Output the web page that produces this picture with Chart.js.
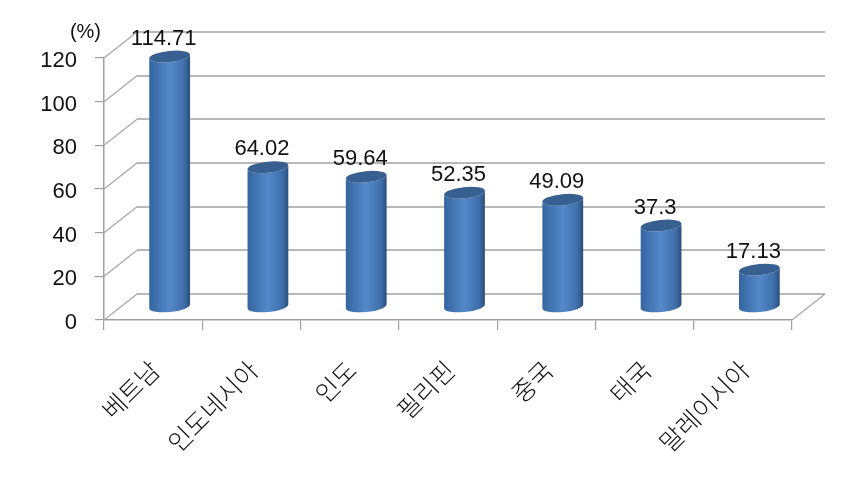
<!DOCTYPE html>
<html lang="ko">
<head>
<meta charset="utf-8">
<style>
    body { margin: 0; background: #fff; }
</style>
<script src="https://cdn.jsdelivr.net/npm/chart.js@4"></script>
</head>
<body>
<canvas id="chart" width="866" height="477"></canvas>
<script>
// datos
const categories = ['베트남', '인도네시아', '인도', '필리핀', '중국', '태국', '말레이시아'];
const values = [114.71, 64.02, 59.64, 52.35, 49.09, 37.3, 17.13];
const unitLabel = '(%)';

// profundidad del "3D" falso
const depthX = 33;
const depthY = 26;
const numFont = '22px "Liberation Sans", Arial, sans-serif';

// paredes de atras y suelo
const wallPlugin = {
    id: 'wall',
    beforeDatasetsDraw(chart) {
        const { ctx, scales: { x, y } } = chart;
        ctx.save();
        ctx.strokeStyle = '#b8b8b8';
        ctx.lineWidth = 2;
        y.ticks.forEach((t, i) => {
            const py = Math.round(y.getPixelForTick(i));
            ctx.beginPath();
            ctx.moveTo(x.left + depthX, py - depthY);
            ctx.lineTo(x.right + depthX, py - depthY);
            ctx.stroke();
        });
        ctx.strokeStyle = '#a6a6a6';
        ctx.lineWidth = 1.2;
        y.ticks.forEach((t, i) => {
            const py = y.getPixelForTick(i);
            ctx.beginPath();
            ctx.moveTo(x.left, py);
            ctx.lineTo(x.left + depthX, py - depthY);
            ctx.stroke();
        });
        ctx.beginPath();
        ctx.moveTo(x.right, y.bottom);
        ctx.lineTo(x.right + depthX, y.bottom - depthY);
        ctx.stroke();
        ctx.restore();
    }
};

// cilindros y etiquetas, a partir de las barras de Chart.js
const cylinderPlugin = {
    id: 'cylinder',
    afterDatasetsDraw(chart) {
        const { ctx, scales: { x, y } } = chart;
        const meta = chart.getDatasetMeta(0);
        const tilt = -0.1;
        ctx.save();
        meta.data.forEach((bar, i) => {
            const cx = bar.x + depthX / 2;
            const top = bar.y - depthY / 2;
            const bottom = bar.base - depthY / 2;
            const rx = bar.width / 2;
            const ry = 5.6;

            const grad = ctx.createLinearGradient(cx - rx, 0, cx + rx, 0);
            grad.addColorStop(0, '#34659f');
            grad.addColorStop(0.5, '#5488c8');
            grad.addColorStop(0.85, '#3f6fab');
            grad.addColorStop(1, '#2b4e7b');

            ctx.beginPath();
            ctx.ellipse(cx, bottom, rx, ry, tilt, 0, Math.PI);
            ctx.ellipse(cx, top, rx, ry, tilt, Math.PI, 0, true);
            ctx.closePath();
            ctx.fillStyle = grad;
            ctx.fill();

            ctx.beginPath();
            ctx.ellipse(cx, top, rx, ry, tilt, 0, Math.PI * 2);
            ctx.fillStyle = '#375f90';
            ctx.fill();

            ctx.fillStyle = '#111';
            ctx.font = numFont;
            ctx.textAlign = 'center';
            ctx.textBaseline = 'middle';
            ctx.fillText(String(values[i]), cx - 6, top - 18);
        });
        ctx.fillStyle = '#111';
        ctx.font = '20px "Liberation Sans", Arial, sans-serif';
        ctx.textAlign = 'right';
        ctx.textBaseline = 'middle';
        ctx.fillText(unitLabel, x.left - 3, y.top - 26);
        ctx.restore();
    }
};

new Chart(document.getElementById('chart'), {
    type: 'bar',
    data: {
        labels: categories,
        datasets: [{
            data: values,
            backgroundColor: 'transparent',
            barPercentage: 0.417,
            categoryPercentage: 1
        }]
    },
    options: {
        responsive: false,
        animation: false,
        layout: { padding: { top: 58, right: 74, left: 0, bottom: 0 } },
        plugins: { legend: { display: false }, tooltip: { enabled: false } },
        scales: {
            x: {
                afterFit(s) { s.height = 157; },
                grid: { drawOnChartArea: false, tickLength: 10, color: '#a0a0a0', lineWidth: 1.2 },
                border: { color: '#a0a0a0', width: 1.5 },
                ticks: {
                    color: '#111',
                    autoSkip: false,
                    maxRotation: 45,
                    minRotation: 45,
                    padding: 25,
                    labelOffset: 2,
                    font: { family: '"Noto Sans CJK KR"', size: 25, weight: 300 }
                }
            },
            y: {
                min: 0,
                max: 120,
                afterFit(s) { s.width = 104; },
                grid: { drawOnChartArea: false, tickLength: 9, color: '#a0a0a0', lineWidth: 1.2 },
                border: { color: '#a0a0a0', width: 1.5 },
                ticks: {
                    stepSize: 20,
                    color: '#111',
                    padding: 18,
                    labelOffset: 3,
                    font: { family: '"Liberation Sans"', size: 22 }
                }
            }
        }
    },
    plugins: [wallPlugin, cylinderPlugin]
});
</script>
</body>
</html>
